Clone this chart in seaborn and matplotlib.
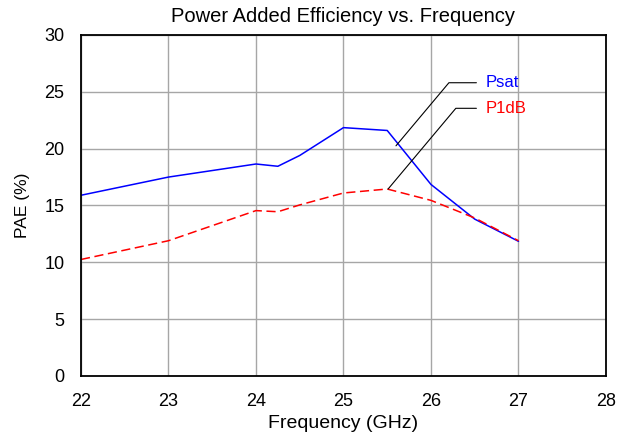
import pandas as pd
import matplotlib.pyplot as plt
import seaborn as sns

sns.set_theme(style="whitegrid")
plt.rcParams['font.family'] = ['Liberation Sans', 'DejaVu Sans']
plt.rcParams['text.color'] = 'black'
plt.rcParams['axes.labelcolor'] = 'black'
plt.rcParams['xtick.color'] = 'black'
plt.rcParams['ytick.color'] = 'black'

freq = [22, 23, 24, 24.25, 24.5, 25, 25.5, 26, 26.5, 27]
psat = [15.9, 17.5, 18.65, 18.45, 19.4, 21.85, 21.6, 16.85, 13.8, 11.85]
p1db = [10.25, 11.9, 14.55, 14.45, 15.05, 16.1, 16.45, 15.45, 13.9, 11.9]

df = pd.DataFrame({'freq': freq, 'Psat': psat, 'P1dB': p1db})
long = df.melt(id_vars='freq', var_name='series', value_name='pae')

fig = plt.figure(figsize=(6.2, 4.38), dpi=100)
ax = fig.add_axes([0.1306, 0.1416, 0.8468, 0.7785])

sns.lineplot(data=long, x='freq', y='pae', hue='series', style='series',
             palette={'Psat': '#0000ff', 'P1dB': '#ff0000'},
             dashes={'Psat': '', 'P1dB': (6, 3)}, linewidth=1.1,
             legend=False, ax=ax)

ax.set_xlim(22, 28)
ax.set_ylim(0, 30)
ax.set_xticks(range(22, 29))
ax.set_yticks(range(0, 31, 5))
ax.grid(True, color='#a6a6a6', linewidth=1.0)
for s in ax.spines.values():
    s.set_color('black')
    s.set_linewidth(1.3)
ax.tick_params(axis='both', labelsize=13, length=0)
ax.tick_params(axis='x', pad=12)
ax.tick_params(axis='y', pad=12)

ax.set_title('Power Added Efficiency vs. Frequency', fontsize=14.5, pad=9)
ax.set_xlabel('Frequency (GHz)', fontsize=14, labelpad=4)
ax.set_ylabel('PAE (%)', fontsize=12.5, labelpad=10)

# leader-line labels
ax.annotate('Psat', xy=(25.6, 20.25), xytext=(26.62, 25.8), color='#0000ff',
            fontsize=12, va='center',
            arrowprops=dict(arrowstyle='-', color='black', lw=0.8,
                            connectionstyle='angle,angleA=0,angleB=50,rad=0',
                            shrinkA=4, shrinkB=0))
ax.annotate('P1dB', xy=(25.51, 16.45), xytext=(26.62, 23.55), color='#ff0000',
            fontsize=12, va='center',
            arrowprops=dict(arrowstyle='-', color='black', lw=0.8,
                            connectionstyle='angle,angleA=0,angleB=50,rad=0',
                            shrinkA=4, shrinkB=0))

fig.savefig('out.png', dpi=100)
plt.close(fig)
